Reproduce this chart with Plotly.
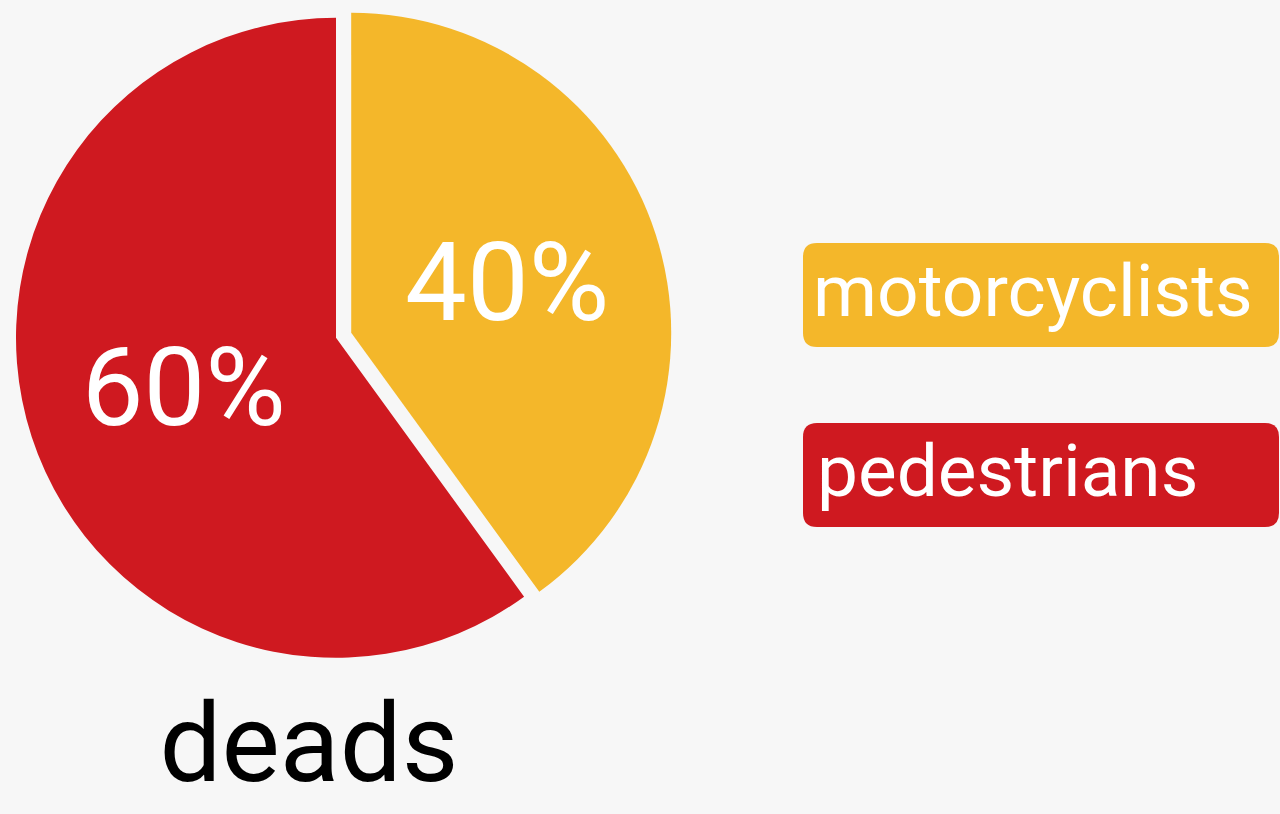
import plotly.graph_objects as go

# Data
categories = ["motorcyclists", "pedestrians"]
values = [40, 60]
colors = ["#F4B72A", "#CF1920"]
title_text = "deads"

W, H = 1280, 814
BG = "#F7F7F7"

fig = go.Figure()
fig.add_trace(go.Pie(
    labels=categories,
    values=values,
    sort=False,
    direction="clockwise",
    rotation=0,
    pull=[0.05, 0],
    marker=dict(colors=colors, line=dict(width=0)),
    textinfo="percent",
    texttemplate="%{percent:.0%}",
    textposition="inside",
    insidetextorientation="horizontal",
    insidetextfont=dict(family="Roboto", size=110, color="white"),
    hoverinfo="skip",
    showlegend=False,
    domain=dict(x=[0, 0.525], y=[0.17, 1.0]),
))

def px(x):
    return x / W

def py(y):
    return 1 - y / H

def rounded_rect(x0, y0, x1, y1, r):
    pts = [
        f"M {px(x0 + r)},{py(y0)}",
        f"L {px(x1 - r)},{py(y0)}",
        f"Q {px(x1)},{py(y0)} {px(x1)},{py(y0 + r)}",
        f"L {px(x1)},{py(y1 - r)}",
        f"Q {px(x1)},{py(y1)} {px(x1 - r)},{py(y1)}",
        f"L {px(x0 + r)},{py(y1)}",
        f"Q {px(x0)},{py(y1)} {px(x0)},{py(y1 - r)}",
        f"L {px(x0)},{py(y0 + r)}",
        f"Q {px(x0)},{py(y0)} {px(x0 + r)},{py(y0)}",
        "Z",
    ]
    return " ".join(pts)

box_tops = [243, 423]
box_h = 104
box_x0, box_x1 = 803, 1279
text_pad = [8, 12]

shapes = []
annotations = []
for i, (cat, col) in enumerate(zip(categories, colors)):
    y0 = box_tops[i]
    y1 = y0 + box_h
    shapes.append(dict(
        type="path", xref="paper", yref="paper",
        path=rounded_rect(box_x0, y0, box_x1, y1, 14),
        fillcolor=col, line=dict(width=0), layer="below",
    ))
    annotations.append(dict(
        text=cat, xref="paper", yref="paper",
        x=px(box_x0 + text_pad[i]), y=py(y0 + box_h / 2 - 4),
        xanchor="left", yanchor="middle", showarrow=False,
        font=dict(family="Roboto", size=73, color="white"),
    ))

fig.update_layout(
    width=W, height=H,
    margin=dict(l=0, r=0, t=0, b=0),
    paper_bgcolor=BG, plot_bgcolor=BG,
    shapes=shapes,
    annotations=annotations,
    title=dict(
        text=title_text,
        x=px(309), y=py(742), xref="paper", yref="paper",
        xanchor="center", yanchor="middle",
        font=dict(family="Roboto", size=110, color="black"),
    ),
)

fig.write_html("out.html")
